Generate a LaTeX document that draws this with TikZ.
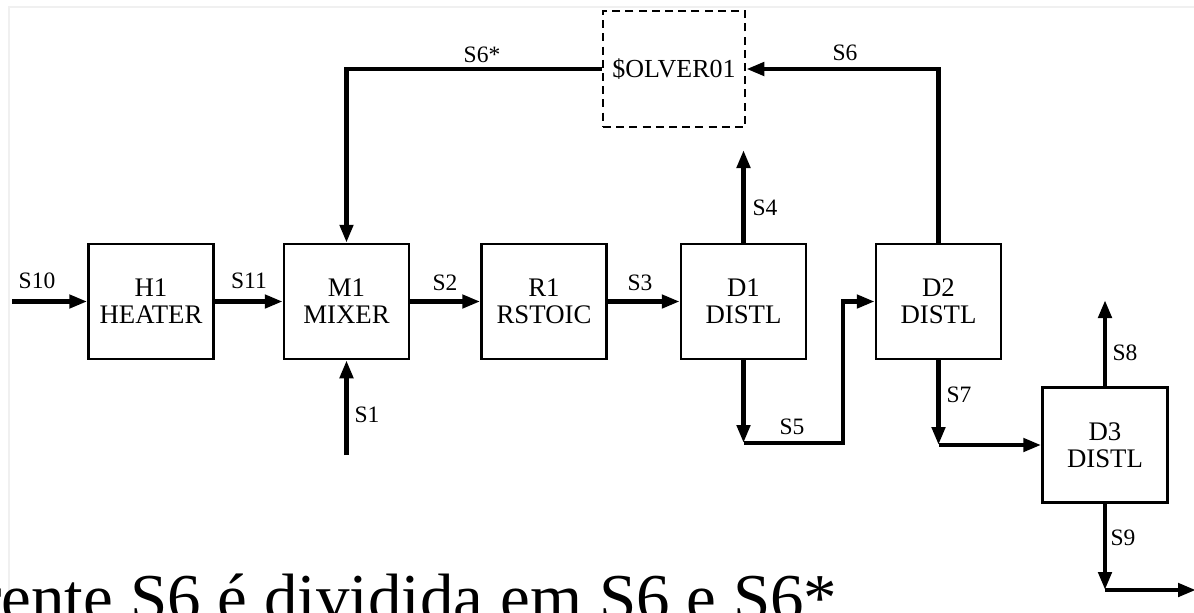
\documentclass[tikz,border=0pt]{standalone}
\usepackage{fontspec}
\setmainfont{Liberation Serif}
\usetikzlibrary{arrows.meta}
\begin{document}
\begin{tikzpicture}[x=0.5pt,y=-0.5pt,
  unit/.style={draw,line width=1.25pt,minimum width=62.5pt,minimum height=57.5pt,inner sep=0pt,align=center,font=\fontsize{13.4}{13.6}\selectfont},
  solverbox/.style={draw,dash pattern=on 4pt off 2.6pt,line width=1.3pt,minimum width=71pt,minimum height=58pt,inner sep=0pt,font=\fontsize{13}{13}\selectfont},
  stream/.style={line width=2.25pt,-{Triangle[length=9pt,width=6.5pt]}},
  plain/.style={line width=2.25pt},
  lbl/.style={inner sep=0pt,font=\fontsize{11.75}{12}\selectfont},
  frameline/.style={draw=black!6,line width=0.8pt}]
\useasboundingbox (0,0) rectangle (1194,612);
\clip (0,0) rectangle (1194,612);
\draw[frameline] (9,612) -- (9,7) -- (1194,7);
% units
\node[unit] (H1) at (151,301.5) {H1\\HEATER};
\node[unit] (M1) at (346.5,301.5) {M1\\MIXER};
\node[unit] (R1) at (544,301.5) {R1\\RSTOIC};
\node[unit] (D1) at (743.5,301.5) {D1\\DISTL};
\node[unit] (D2) at (938.5,301.5) {D2\\DISTL};
\node[unit] (D3) at (1105,445) {D3\\DISTL};
\node[solverbox] (SV) at (674,69) {\$OLVER01};
% free ends and corners
\coordinate (in10) at (12,301.5);
\coordinate (in1) at (346.5,455);
\coordinate (out4) at (743.5,150);
\coordinate (c5) at (743.5,443);
\coordinate (c5b) at (843,443);
\coordinate (c7) at (938.5,445);
\coordinate (out8) at (1105,300);
\coordinate (c9) at (1105,590);
\coordinate (out9) at (1196,590);
% streams
\draw[stream] (in10) -- (H1.west);
\draw[stream] (H1.east) -- (M1.west);
\draw[stream] (M1.east) -- (R1.west);
\draw[stream] (R1.east) -- (D1.west);
\draw[stream] (in1) -- (M1.south);
\draw[stream] (SV.west) -| (M1.north);
\draw[stream] (D2.north) |- (SV.east);
\draw[stream] (D1.north) -- (out4);
\draw[stream] (D1.south) -- (c5);
\draw[stream] (c5) -- (c5b) |- (D2.west);
\draw[stream] (D2.south) -- (c7);
\draw[stream] (c7) -- (D3.west);
\draw[stream] (D3.north) -- (out8);
\draw[stream] (D3.south) -- (c9);
\draw[stream] (c9) -- (out9);
% labels
\node[lbl] (l10) at (37,281) {S10};
\node[lbl] (l11) at (249,281) {S11};
\node[lbl] (l2) at (445,283) {S2};
\node[lbl] (l3) at (640,283) {S3};
\node[lbl] (l6s) at (482,55) {S6*};
\node[lbl] (l6) at (845,53) {S6};
\node[lbl] (l4) at (765,208) {S4};
\node[lbl] (l5) at (792,427) {S5};
\node[lbl] (l1) at (367,415) {S1};
\node[lbl] (l7) at (959,395) {S7};
\node[lbl] (l8) at (1125,353) {S8};
\node[lbl] (l9) at (1123,538) {S9};
% caption (cut by the picture edge)
\node[anchor=base west,inner sep=0pt,font=\fontsize{33.5}{34}\selectfont] (note) at (-21,620) {rente S6 é dividida em S6 e S6*};
\end{tikzpicture}
\end{document}
